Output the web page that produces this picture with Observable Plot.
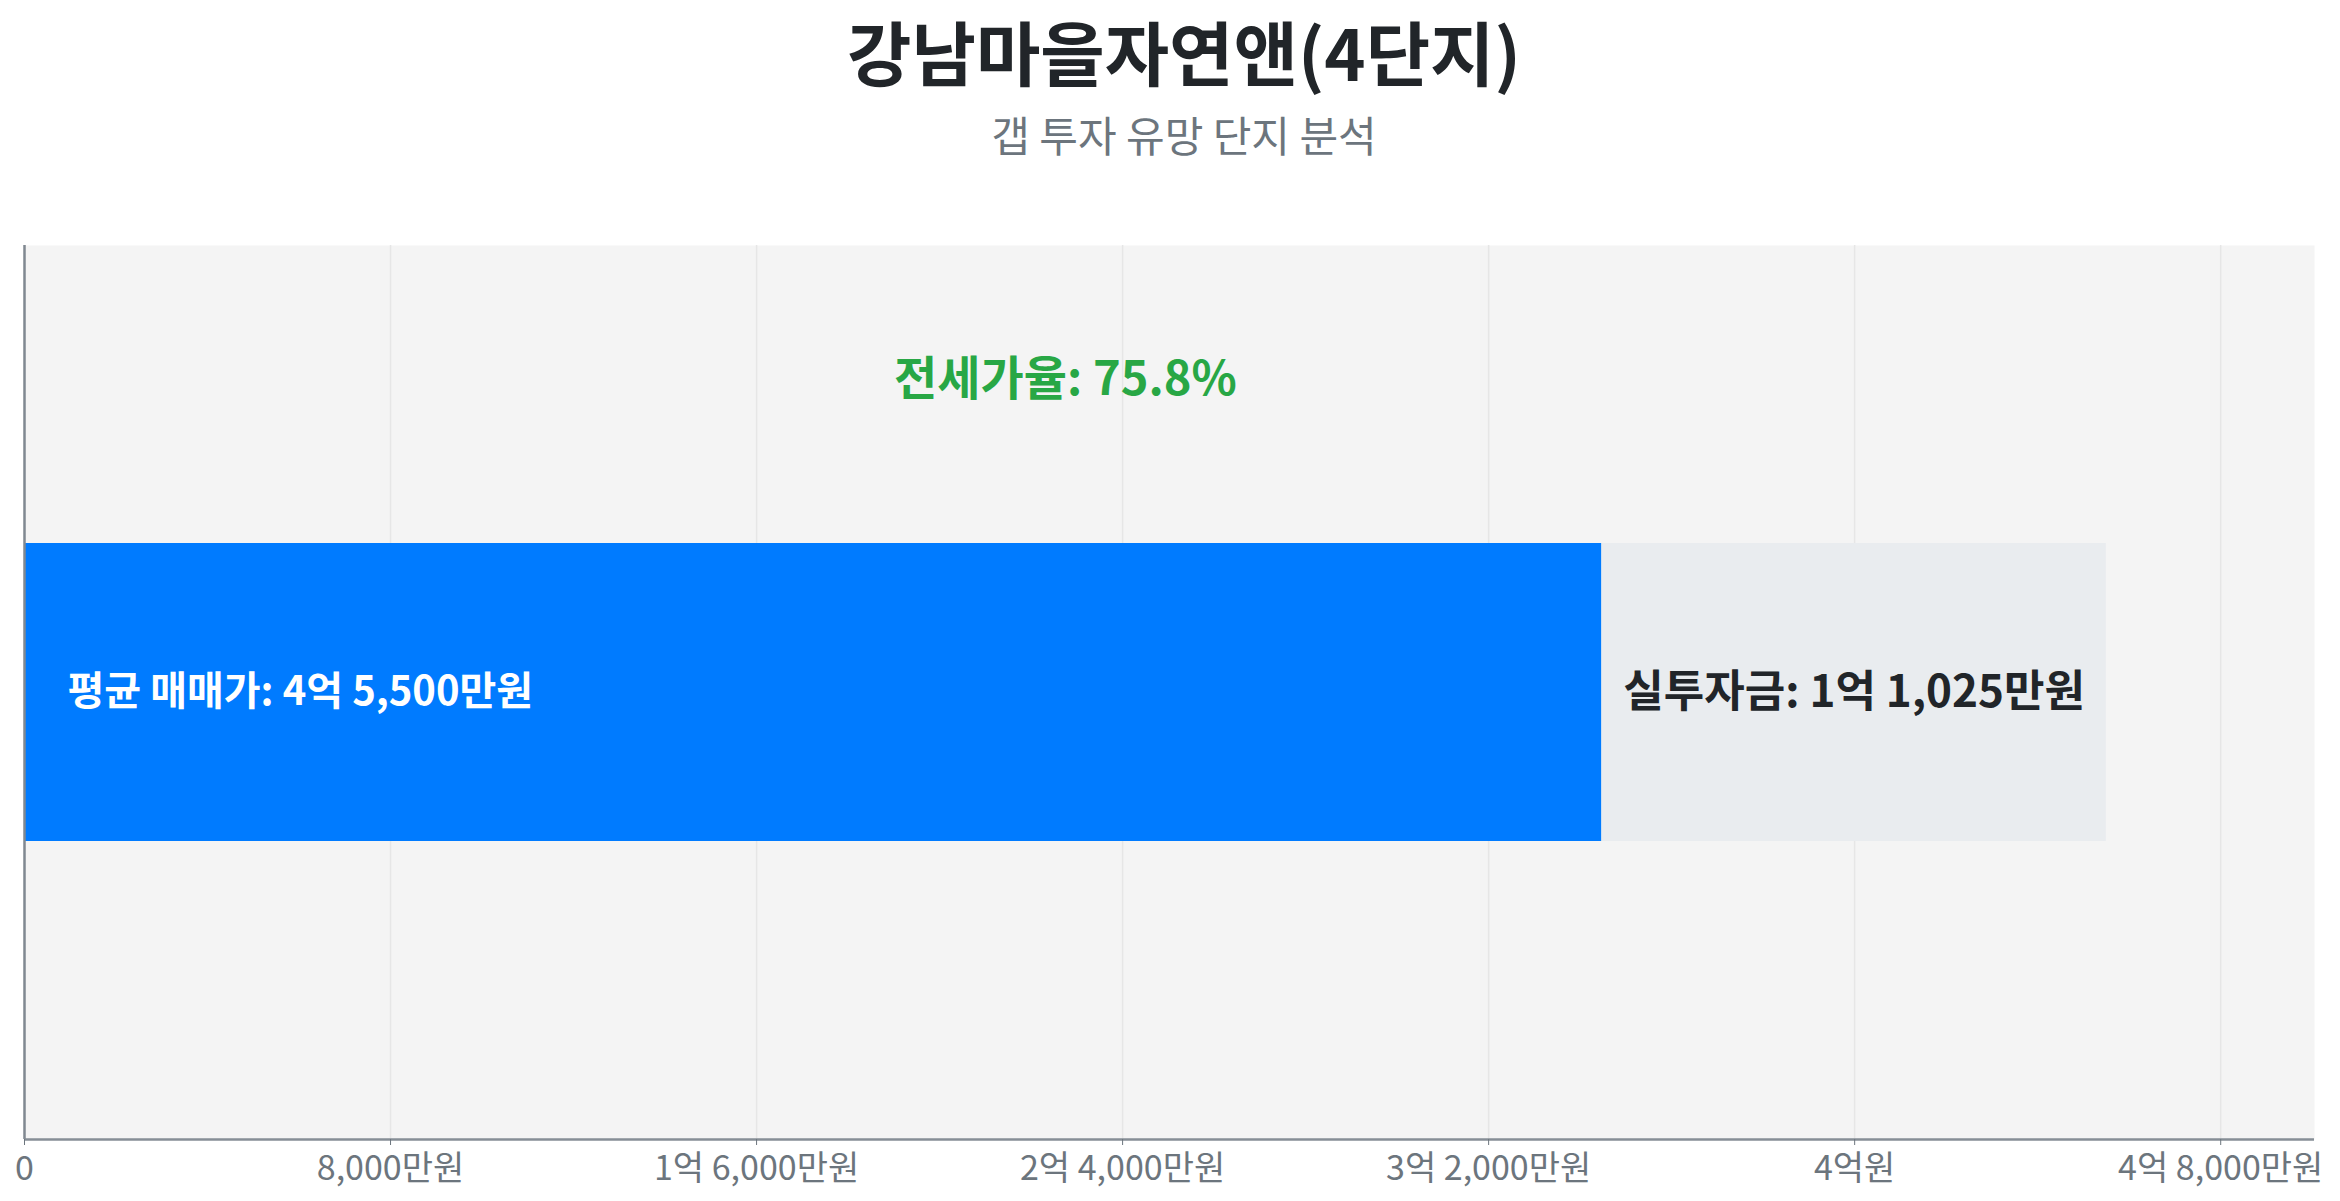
<!DOCTYPE html>
<html>
<head>
<meta charset="utf-8">
<script src="https://cdn.jsdelivr.net/npm/d3@7"></script>
<script src="https://cdn.jsdelivr.net/npm/@observablehq/plot@0.6"></script>
<style>
  html, body { margin: 0; padding: 0; background: #ffffff; }
  body { width: 2340px; height: 1201px; overflow: hidden; font-family: "Noto Sans CJK KR", "Noto Sans", sans-serif; }
  #header { position: relative; height: 180px; width: 2340px; }
  #title { position: absolute; left: 28px; right: 0; top: 0; text-align: center; font-size: 70px; font-weight: bold; line-height: normal; color: #212529; }
  #subtitle { position: absolute; left: 28px; right: 0; top: 113px; text-align: center; font-size: 42px; line-height: 1; color: #6c757d; }
</style>
</head>
<body>
<div id="header">
  <div id="title">강남마을자연앤(4단지)</div>
  <div id="subtitle">갭 투자 유망 단지 분석</div>
</div>
<div id="chart"></div>
<script>
// ---- data (만원) ----
const salePrice = 45500;          // 평균 매매가
const jeonsePrice = 34475;        // 전세가
const investment = 11025;         // 실투자금
const jeonseRatio = 75.8;         // 전세가율 (%)
const segmentNames = ["전세가", "실투자금"];
const segmentValues = [jeonsePrice, investment];
const xTicks = [0, 8000, 16000, 24000, 32000, 40000, 48000];

// ---- formatting ----
function fmtWon(v) {
  if (v === 0) return "0";
  const eok = Math.floor(v / 10000);
  const man = v % 10000;
  const manStr = man.toLocaleString("en-US");
  if (eok > 0 && man > 0) return `${eok}억 ${manStr}만원`;
  if (eok > 0) return `${eok}억원`;
  return `${manStr}만원`;
}

// stacked segments built from the values
const segColors = ["#007bff", "#e9ecef"];
let acc = 0;
const segments = segmentNames.map((name, i) => {
  const s = {name, x1: acc, x2: acc + segmentValues[i], fill: segColors[i]};
  acc += segmentValues[i];
  return s;
});

const font = '"Noto Sans CJK KR", "Noto Sans", sans-serif';

const chart = Plot.plot({
  width: 2340,
  height: 1021,
  marginTop: 65,
  marginBottom: 62,
  marginLeft: 24,
  marginRight: 26,
  style: {fontFamily: font, background: "transparent"},
  x: {domain: [0, salePrice * 1.1]},
  y: {domain: [0, 3], axis: null},
  marks: [
    Plot.frame({fill: "#f4f4f4", stroke: null}),
    Plot.ruleX(xTicks, {stroke: "#e6e6e6", strokeWidth: 1.5}),
    Plot.rectX(segments, {x1: "x1", x2: "x2", y1: 1, y2: 2, fill: d => d.fill}),
    Plot.ruleX([0], {stroke: "#808891", strokeWidth: 2.5}),
    Plot.ruleY([0], {stroke: "#868e96", strokeWidth: 2.5}),
    Plot.axisX({ticks: xTicks, tickFormat: fmtWon, tickSize: 6, tickPadding: 10, fontSize: 34, color: "#6c757d", label: null}),
    Plot.text([salePrice], {
      x: 0, y: 1.5, dx: 43, text: d => `평균 매매가: ${fmtWon(d)}`,
      textAnchor: "start", fill: "white", fontSize: 40, fontWeight: "bold"
    }),
    Plot.text([segments[1]], {
      x: d => (d.x1 + d.x2) / 2, y: 1.5, text: () => `실투자금: ${fmtWon(investment)}`,
      textAnchor: "middle", fill: "#212529", fontSize: 44, fontWeight: "bold"
    }),
    Plot.text([jeonseRatio], {
      x: salePrice / 2, y: 2.5, text: d => `전세가율: ${d}%`, lineAnchor: "bottom",
      textAnchor: "middle", fill: "#28a745", fontSize: 47, fontWeight: "bold"
    })
  ]
});
document.getElementById("chart").appendChild(chart);
</script>
</body>
</html>
